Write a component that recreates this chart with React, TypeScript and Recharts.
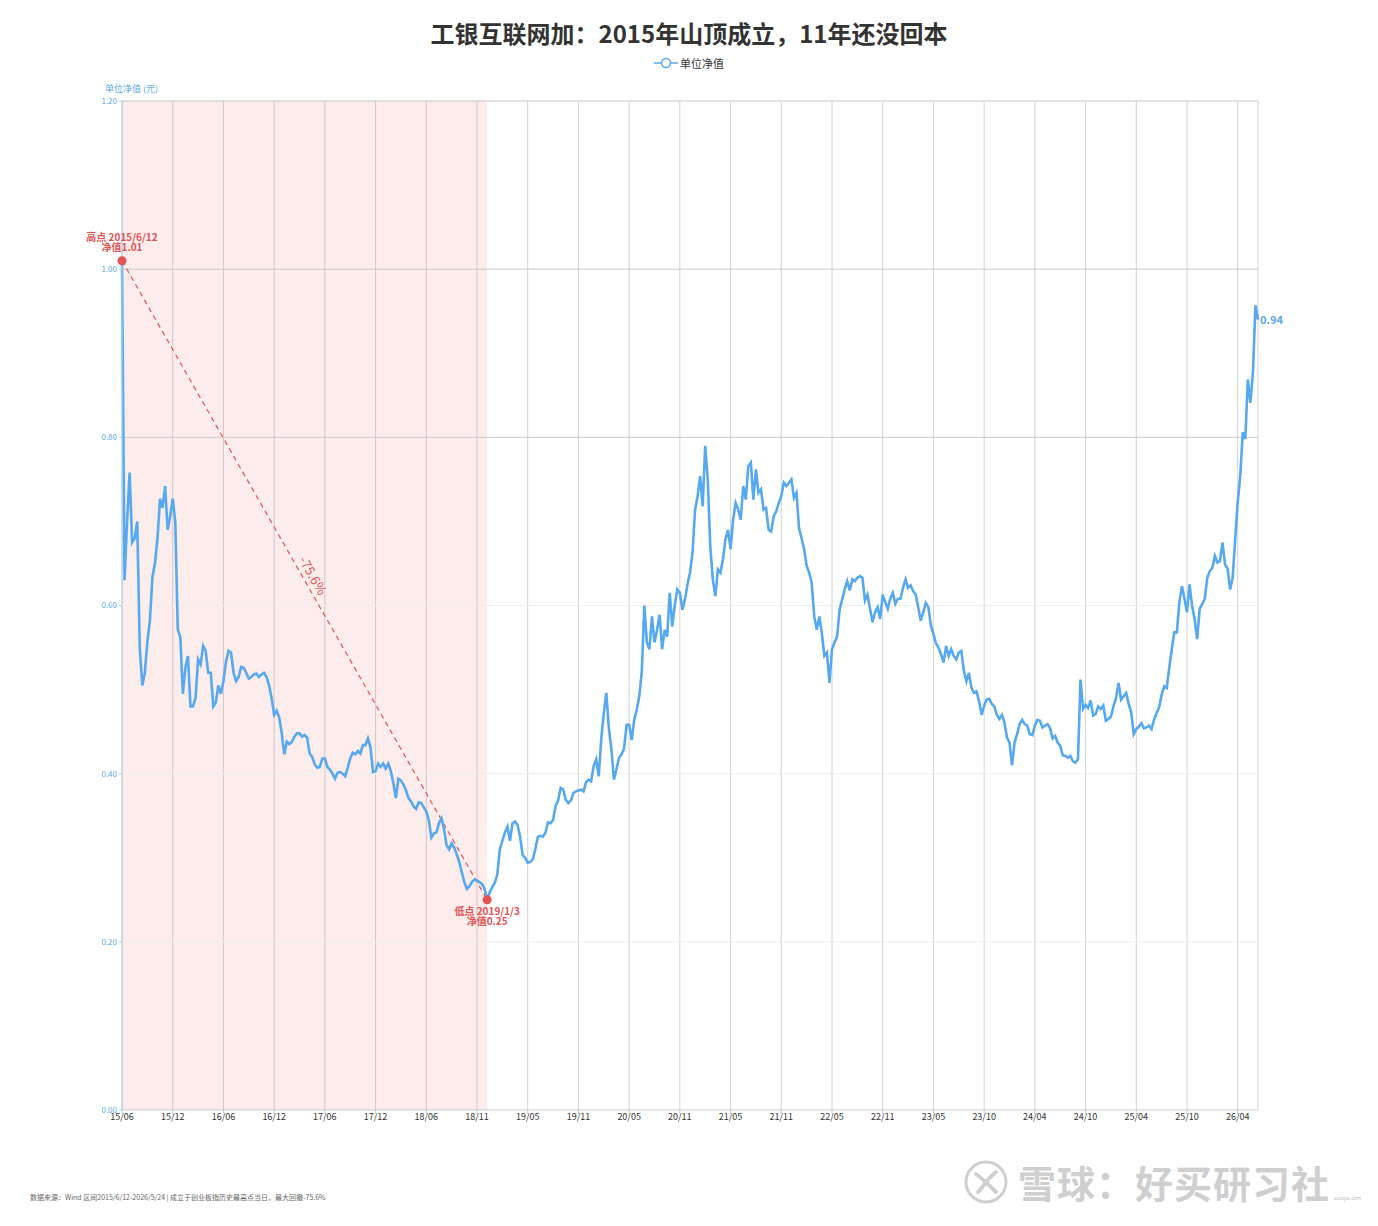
import {
  CartesianGrid,
  Line,
  LineChart,
  ReferenceArea,
  ReferenceDot,
  ReferenceLine,
  XAxis,
  YAxis,
} from "recharts"

// x axis labels, one every 20 points (10 axis units)
const TICK_LABELS = [
  "15/06", "15/12", "16/06", "16/12", "17/06", "17/12", "18/06", "18/11",
  "19/05", "19/11", "20/05", "20/11", "21/05", "21/11", "22/05", "22/11",
  "23/05", "23/10", "24/04", "24/10", "25/04", "25/10", "26/04",
]

// unit NAV, one point per half axis unit (~2.5px)
const NAV = [
  1.01, 0.63, 0.70, 0.758, 0.675, 0.68, 0.70, 0.55, 0.505, 0.52,
  0.557, 0.582, 0.634, 0.65, 0.68, 0.727, 0.716, 0.742, 0.69, 0.706,
  0.727, 0.70, 0.572, 0.562, 0.495, 0.526, 0.54, 0.48, 0.48, 0.49,
  0.536, 0.53, 0.552, 0.546, 0.52, 0.52, 0.48, 0.485, 0.505, 0.495,
  0.51, 0.533, 0.546, 0.544, 0.52, 0.51, 0.515, 0.527, 0.526, 0.52,
  0.513, 0.515, 0.518, 0.519, 0.515, 0.518, 0.52, 0.515, 0.505, 0.49,
  0.47, 0.475, 0.467, 0.448, 0.423, 0.438, 0.435, 0.438, 0.444, 0.448,
  0.448, 0.444, 0.446, 0.443, 0.424, 0.42, 0.411, 0.407, 0.408, 0.418,
  0.418, 0.408, 0.405, 0.40, 0.394, 0.401, 0.402, 0.40, 0.397, 0.407,
  0.418, 0.425, 0.423, 0.427, 0.424, 0.434, 0.434, 0.442, 0.431, 0.402,
  0.403, 0.412, 0.408, 0.412, 0.406, 0.412, 0.403, 0.389, 0.371, 0.394,
  0.392, 0.387, 0.38, 0.371, 0.367, 0.361, 0.358, 0.366, 0.365, 0.36,
  0.355, 0.345, 0.324, 0.329, 0.33, 0.341, 0.347, 0.334, 0.315, 0.31,
  0.317, 0.312, 0.304, 0.295, 0.283, 0.271, 0.263, 0.266, 0.271, 0.274,
  0.273, 0.271, 0.269, 0.263, 0.25, 0.259, 0.265, 0.27, 0.28, 0.31,
  0.32, 0.33, 0.337, 0.32, 0.341, 0.343, 0.339, 0.325, 0.303, 0.30,
  0.294, 0.295, 0.298, 0.31, 0.325, 0.326, 0.325, 0.33, 0.342, 0.341,
  0.345, 0.362, 0.368, 0.383, 0.381, 0.369, 0.365, 0.368, 0.377, 0.379,
  0.38, 0.381, 0.379, 0.39, 0.393, 0.391, 0.409, 0.417, 0.397, 0.441,
  0.472, 0.496, 0.454, 0.429, 0.393, 0.405, 0.419, 0.423, 0.43, 0.458,
  0.458, 0.44, 0.464, 0.476, 0.492, 0.522, 0.60, 0.556, 0.548, 0.587,
  0.556, 0.571, 0.589, 0.548, 0.571, 0.563, 0.615, 0.575, 0.601, 0.619,
  0.615, 0.595, 0.607, 0.625, 0.639, 0.663, 0.714, 0.73, 0.754, 0.718,
  0.79, 0.75, 0.67, 0.631, 0.611, 0.643, 0.639, 0.655, 0.679, 0.69,
  0.667, 0.702, 0.722, 0.714, 0.702, 0.742, 0.726, 0.766, 0.77, 0.726,
  0.762, 0.734, 0.738, 0.714, 0.716, 0.69, 0.688, 0.706, 0.712, 0.722,
  0.73, 0.746, 0.742, 0.746, 0.75, 0.728, 0.734, 0.692, 0.68, 0.667,
  0.647, 0.639, 0.627, 0.587, 0.571, 0.587, 0.567, 0.54, 0.544, 0.508,
  0.548, 0.556, 0.563, 0.595, 0.607, 0.619, 0.629, 0.618, 0.631, 0.629,
  0.633, 0.635, 0.633, 0.606, 0.613, 0.596, 0.58, 0.592, 0.598, 0.584,
  0.613, 0.604, 0.596, 0.608, 0.615, 0.602, 0.608, 0.608, 0.621, 0.631,
  0.621, 0.624, 0.617, 0.613, 0.598, 0.582, 0.592, 0.603, 0.598, 0.576,
  0.566, 0.555, 0.55, 0.542, 0.532, 0.552, 0.54, 0.548, 0.54, 0.536,
  0.544, 0.546, 0.522, 0.51, 0.52, 0.502, 0.496, 0.498, 0.486, 0.47,
  0.481, 0.488, 0.489, 0.483, 0.48, 0.47, 0.465, 0.47, 0.461, 0.443,
  0.437, 0.41, 0.437, 0.447, 0.459, 0.464, 0.459, 0.457, 0.447, 0.446,
  0.457, 0.464, 0.463, 0.455, 0.457, 0.459, 0.454, 0.442, 0.445, 0.437,
  0.433, 0.422, 0.421, 0.419, 0.421, 0.415, 0.413, 0.417, 0.512, 0.477,
  0.482, 0.478, 0.487, 0.469, 0.471, 0.48, 0.477, 0.481, 0.463, 0.465,
  0.468, 0.48, 0.49, 0.508, 0.488, 0.492, 0.496, 0.483, 0.473, 0.447,
  0.453, 0.456, 0.46, 0.454, 0.455, 0.457, 0.453, 0.464, 0.472, 0.479,
  0.494, 0.504, 0.502, 0.526, 0.548, 0.568, 0.568, 0.604, 0.623, 0.608,
  0.592, 0.625, 0.60, 0.584, 0.56, 0.596, 0.602, 0.608, 0.633, 0.641,
  0.645, 0.659, 0.651, 0.653, 0.675, 0.649, 0.644, 0.619, 0.633, 0.679,
  0.723, 0.754, 0.806, 0.798, 0.869, 0.841, 0.877, 0.957, 0.94,
]

const Y_TICKS = [0, 0.2, 0.4, 0.6, 0.8, 1.0, 1.2]
const GRID_STRONG = [0.8, 1.0, 1.2]
const GRID_FAINT = [0.2, 0.4, 0.6]

const HIGH = { x: 0, nav: 1.01, date: "2015/6/12" }
const LOW = { x: 72, nav: 0.25, date: "2019/1/3" }
const LAST = { x: (NAV.length - 1) / 2, nav: 0.94 }
const DRAWDOWN = "-75.6%"

const data = NAV.map((nav, k) => ({ x: k / 2, nav }))
const xTicks = TICK_LABELS.map((_, k) => k * 10)

const BLUE = "#56a9ee"
const RED = "#e25353"
const FONT = "'Noto Sans CJK SC', 'Noto Sans', sans-serif"

// red dot plus a two-line caption (one text element, two tspans)
function ExtremeMark({ cx, cy, lines, above }: { cx: number; cy: number; lines: string[]; above: boolean }) {
  const y0 = above ? cy - 20 : cy + 15
  return (
    <g>
      <circle cx={cx} cy={cy} r={4.5} fill={RED} />
      <text x={cx} y={y0} textAnchor="middle" fill={RED} fontSize={10} fontWeight={700} fontFamily={FONT}>
        <tspan x={cx}>{lines[0]}</tspan>
        <tspan x={cx} dy={10.5}>{lines[1]}</tspan>
      </text>
    </g>
  )
}

export default function App() {
  return (
    <div style={{ position: "relative", width: 1378, height: 1226, background: "#fff", fontFamily: FONT }}>
      <style>{`body{margin:0}`}</style>

      <div
        style={{
          position: "absolute", top: 17, left: 0, width: 1378, textAlign: "center",
          fontSize: 24, fontWeight: 700, color: "#333", lineHeight: "32px",
        }}
      >
        工银互联网加：2015年山顶成立，11年还没回本
      </div>

      {/* legend */}
      <div style={{ position: "absolute", top: 55, left: 654, display: "flex", alignItems: "center", fontSize: 11, color: "#333" }}>
        <svg width={24} height={14}>
          <line x1={0} y1={7} x2={24} y2={7} stroke={BLUE} strokeWidth={1.5} />
          <circle cx={12} cy={7} r={4.5} fill="#fff" stroke={BLUE} strokeWidth={1.5} />
        </svg>
        <span style={{ marginLeft: 2 }}>单位净值</span>
      </div>

      <div style={{ position: "absolute", top: 82, left: 105, fontSize: 9, color: "#5aaaea" }}>单位净值 (元)</div>

      <div style={{ position: "absolute", top: 0, left: 0 }}>
        <LineChart width={1378} height={1226} data={data} margin={{ top: 101, right: 120, bottom: 86, left: 82 }}>
          <ReferenceArea x1={0} x2={LOW.x} y1={0} y2={1.2} fill="#e86a6a" fillOpacity={0.13} stroke="none" />
          <CartesianGrid horizontal={false} stroke="#d2d2d2" />
          {GRID_FAINT.map((y) => (
            <ReferenceLine key={y} y={y} stroke="#eeeeee" />
          ))}
          {GRID_STRONG.map((y) => (
            <ReferenceLine key={y} y={y} stroke="#c9c9c9" />
          ))}
          <XAxis
            type="number"
            dataKey="x"
            domain={[0, LAST.x]}
            ticks={xTicks}
            tickFormatter={(v: number) => TICK_LABELS[Math.round(v / 10)]}
            stroke="#cccccc"
            tick={{ fill: "#333", fontSize: 9, fontFamily: FONT }}
            tickSize={4}
            tickMargin={0}
            height={30}
            interval={0}
          />
          <YAxis
            type="number"
            domain={[0, 1.2]}
            ticks={Y_TICKS}
            tickFormatter={(v: number) => v.toFixed(2)}
            stroke="#a8d2f5"
            tick={{ fill: "#5aaaea", fontSize: 8, fontFamily: FONT }}
            tickSize={3}
            width={40}
            interval={0}
          />
          <ReferenceLine
            segment={[{ x: HIGH.x, y: HIGH.nav }, { x: LOW.x, y: LOW.nav }]}
            stroke={RED}
            strokeDasharray="5 4"
            strokeWidth={1.2}
          />
          <Line
            type="linear"
            dataKey="nav"
            stroke={BLUE}
            strokeWidth={2.6}
            dot={false}
            isAnimationActive={false}
          />
          <ReferenceDot
            x={(HIGH.x + LOW.x) / 2}
            y={(HIGH.nav + LOW.nav) / 2}
            r={0}
            shape={(p: any) => (
              <text
                x={p.cx + 9}
                y={p.cy - 5}
                transform={`rotate(60.4 ${p.cx + 9} ${p.cy - 5})`}
                textAnchor="middle"
                dominantBaseline="central"
                fill={RED}
                fontSize={13}
                fontFamily={FONT}
              >
                {DRAWDOWN}
              </text>
            )}
          />
          <ReferenceDot
            x={HIGH.x}
            y={HIGH.nav}
            r={4}
            shape={(p: any) => (
              <ExtremeMark cx={p.cx} cy={p.cy} above lines={[`高点 ${HIGH.date}`, `净值${HIGH.nav.toFixed(2)}`]} />
            )}
          />
          <ReferenceDot
            x={LOW.x}
            y={LOW.nav}
            r={4}
            shape={(p: any) => (
              <ExtremeMark cx={p.cx} cy={p.cy} above={false} lines={[`低点 ${LOW.date}`, `净值${LOW.nav.toFixed(2)}`]} />
            )}
          />
          <ReferenceDot
            x={LAST.x}
            y={LAST.nav}
            r={0}
            shape={(p: any) => (
              <text x={p.cx + 2} y={p.cy - 1} dominantBaseline="central" fill={BLUE} fontSize={11} fontWeight={700} fontFamily={FONT}>
                {LAST.nav.toFixed(2)}
              </text>
            )}
          />
        </LineChart>
      </div>

      <div style={{ position: "absolute", top: 1192, left: 30, fontSize: 7, color: "#666", whiteSpace: "nowrap" }}>
        数据来源：Wind 区间2015/6/12-2026/5/24 | 成立于创业板指历史最高点当日，最大回撤-75.6%
      </div>

      {/* watermark */}
      <div style={{ position: "absolute", top: 1158, left: 962, display: "flex", alignItems: "center", color: "#cfcfcf" }}>
        <svg width={48} height={48}>
          <circle cx={24} cy={24} r={20} fill="none" stroke="#cfcfcf" strokeWidth={3} />
          <path d="M14 16 C22 22 26 26 34 34 M34 14 C26 20 22 28 16 34" stroke="#cfcfcf" strokeWidth={4} fill="none" strokeLinecap="round" />
        </svg>
        <span style={{ fontSize: 38, fontWeight: 700, marginLeft: 8, letterSpacing: 1, lineHeight: "44px" }}>雪球：好买研习社</span>
      </div>
      <div style={{ position: "absolute", top: 1194, left: 1334, fontSize: 5, color: "#bbb" }}>xueqiu.com</div>
    </div>
  )
}
